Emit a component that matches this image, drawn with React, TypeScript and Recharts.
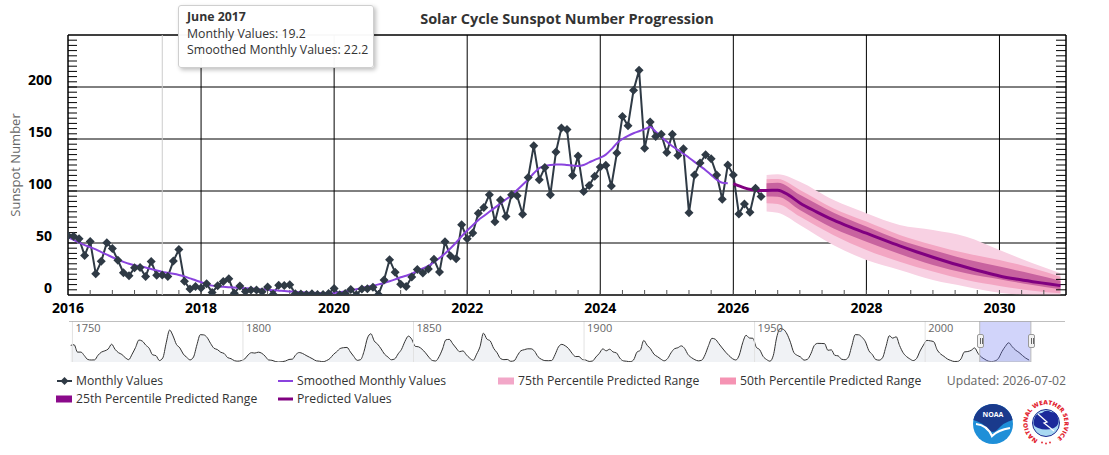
import React from 'react'
import {
  ComposedChart, Line, Area, XAxis, YAxis, CartesianGrid, ReferenceLine, ReferenceArea,
} from 'recharts'

document.body.style.margin = '0'

const FONT = "'Open Sans', sans-serif"

const TITLE = 'Solar Cycle Sunspot Number Progression'
const X_TICKS = [2016, 2018, 2020, 2022, 2024, 2026, 2028, 2030]
const Y_TICKS = [0, 50, 100, 150, 200]

// monthly values, Jan 2016 .. Jun 2026
const MONTHLY = [
  57.0, 56.4, 54.1, 37.9, 51.5, 20.5, 32.4, 50.2, 44.6, 33.4, 21.4, 18.5,
  26.1, 26.4, 17.7, 32.3, 18.9, 19.2, 17.8, 32.6, 43.7, 13.2, 5.7, 8.2,
  6.8, 10.7, 2.5, 8.9, 13.1, 15.6, 1.6, 8.7, 3.3, 4.9, 4.9, 3.1,
  7.7, 0.8, 9.4, 9.1, 9.9, 1.2, 0.9, 0.5, 1.1, 0.4, 0.5, 1.5,
  6.2, 0.2, 1.5, 5.2, 0.2, 5.8, 6.1, 7.5, 0.6, 14.4, 34.0, 21.8,
  10.4, 8.2, 17.2, 24.5, 21.2, 25.0, 34.3, 22.0, 51.3, 37.4, 34.8, 67.5,
  54.0, 59.7, 78.5, 84.1, 96.5, 70.5, 91.4, 75.4, 96.3, 95.4, 77.6, 113.1,
  143.6, 110.9, 122.5, 96.4, 137.4, 160.5, 159.1, 114.8, 133.6, 99.4, 105.4, 114.2,
  123.0, 124.7, 104.9, 136.5, 171.7, 162.8, 196.8, 216.0, 141.1, 166.4, 152.5, 154.5,
  137.0, 154.6, 134.2, 140.6, 79.0, 115.5, 127.0, 134.8, 131.0, 115.5, 92.0, 125.0,
  115.5, 78.0, 87.6, 79.5, 102.7, 94.7,
]

// smoothed monthly values, Jan 2016 .. Dec 2025
const SMOOTHED = [
  55.6, 53.0, 50.5, 48.0, 46.0, 43.8, 41.3, 38.8, 36.3, 34.0, 31.9, 30.0,
  28.6, 27.6, 26.5, 25.0, 23.5, 22.2, 21.3, 20.4, 19.3, 17.9, 16.0, 14.2,
  12.2, 10.4, 9.0, 8.3, 7.9, 7.5, 7.1, 6.8, 6.5, 6.2, 5.8, 5.4,
  5.0, 4.6, 4.2, 3.8, 3.4, 3.0, 2.7, 2.4, 2.1, 1.9, 1.8, 1.8,
  2.0, 2.6, 3.4, 4.6, 5.6, 6.8, 8.0, 9.0, 10.2, 11.6, 13.2, 15.0,
  17.0, 18.5, 20.5, 23.0, 25.5, 28.0, 31.5, 35.5, 40.0, 45.0, 50.5, 56.5,
  62.0, 67.0, 72.0, 76.0, 80.0, 84.0, 88.0, 92.0, 96.0, 101.0, 106.0, 111.0,
  117.0, 122.0, 124.0, 125.0, 125.5, 125.5, 125.0, 124.5, 124.0, 125.0, 127.5, 130.0,
  132.0, 135.0, 140.0, 146.0, 150.0, 153.0, 155.5, 157.5, 159.5, 161.5, 157.0, 152.0,
  147.5, 143.0, 139.5, 136.0, 132.0, 128.0, 124.0, 120.0, 115.5, 111.0, 108.0, 107.5,
]

const PREDICTED_MONTHS = [
  '2026-01', '2026-03', '2026-05', '2026-07', '2026-09', '2026-11',
  '2027-01', '2027-04', '2027-07', '2027-10', '2028-01', '2028-04', '2028-07', '2028-10',
  '2029-01', '2029-04', '2029-07', '2029-10', '2030-01', '2030-04', '2030-07', '2030-10', '2030-12',
]
const PREDICTED = [
  107.0, 103.0, 100.8, 100.5, 100.8, 96.0,
  88.5, 80.0, 72.2, 65.5, 59.4, 53.2, 47.2, 41.6,
  36.3, 31.3, 26.7, 22.3, 18.3, 15.3, 12.8, 10.6, 9.0,
]

const BAND_MONTHS = [
  '2026-07', '2026-09', '2027-01', '2027-07', '2028-01', '2028-07',
  '2029-01', '2029-07', '2030-01', '2030-07', '2030-12',
]
const P75_LOW = [80.2, 79.0, 67.4, 48.1, 33.7, 24.1, 14.4, 8.0, 2.2, 0.0, 0.0]
const P75_HIGH = [115.5, 116.2, 109.0, 91.5, 78.7, 67.4, 62.6, 56.1, 43.3, 30.5, 20.9]
const P50_LOW = [88.3, 87.5, 75.4, 57.8, 43.3, 32.0, 22.5, 14.4, 8.7, 4.1, 1.6]
const P50_HIGH = [111.4, 111.5, 101.0, 83.5, 70.6, 57.8, 48.1, 40.1, 33.7, 25.7, 17.6]
const P25_LOW = [94.7, 94.5, 81.8, 64.2, 51.3, 39.5, 28.9, 20.9, 15.1, 9.6, 5.5]
const P25_HIGH = [107.5, 108.0, 96.3, 79.3, 65.8, 53.0, 43.3, 34.4, 27.3, 20.2, 13.8]

// navigator: yearly sunspot numbers 1749 .. 2030
const NAV_START = 1749
const NAV_YEARLY = [
  134.0, 139.0, 79.5, 79.7, 51.2, 20.3, 16.0, 17.0, 54.0, 79.3,
  90.0, 104.8, 143.2, 102.0, 75.2, 60.7, 34.8, 19.0, 63.0, 116.3,
  176.8, 168.0, 136.0, 110.8, 58.0, 51.0, 11.7, 33.0, 154.2, 257.3,
  209.8, 141.3, 113.5, 64.2, 38.0, 17.0, 40.2, 138.2, 220.0, 218.2,
  196.8, 149.8, 111.0, 100.0, 78.2, 68.3, 35.5, 26.7, 10.7, 6.8,
  11.3, 24.2, 56.7, 75.0, 71.8, 79.2, 70.3, 46.8, 16.8, 13.5,
  4.2, 0.0, 2.3, 8.3, 20.3, 23.2, 59.0, 76.3, 68.3, 52.9,
  38.5, 24.2, 9.2, 6.3, 2.2, 11.4, 28.2, 59.9, 83.0, 108.5,
  115.2, 117.4, 80.8, 44.3, 13.4, 19.5, 85.8, 192.7, 227.3, 168.7,
  143.0, 105.5, 63.3, 40.3, 18.1, 25.1, 65.8, 102.7, 166.3, 208.3,
  182.5, 126.3, 122.0, 102.7, 74.1, 39.0, 12.7, 8.2, 43.4, 104.4,
  178.3, 182.2, 146.6, 112.1, 83.5, 89.2, 57.8, 30.7, 13.9, 62.8,
  123.6, 232.0, 185.3, 169.2, 110.1, 74.5, 28.3, 18.9, 20.7, 5.7,
  10.0, 53.7, 90.5, 99.0, 106.1, 105.8, 86.3, 42.4, 21.8, 11.2,
  10.4, 11.8, 59.5, 121.7, 142.0, 130.0, 106.6, 69.4, 43.8, 44.4,
  20.2, 15.7, 4.6, 8.5, 40.8, 70.1, 105.5, 90.1, 102.8, 80.9,
  73.2, 30.9, 9.5, 6.0, 2.4, 16.1, 79.0, 95.0, 173.6, 134.6,
  105.7, 62.7, 43.5, 23.7, 9.7, 27.9, 74.0, 106.5, 114.7, 129.7,
  108.2, 59.4, 35.1, 18.6, 9.2, 14.6, 60.2, 132.8, 190.6, 182.6,
  148.0, 113.0, 79.2, 50.8, 27.1, 16.1, 55.3, 154.3, 214.7, 193.0,
  190.7, 118.9, 98.3, 45.0, 20.1, 6.6, 54.2, 200.7, 269.3, 261.7,
  225.1, 159.0, 76.4, 53.4, 39.9, 15.0, 22.0, 66.8, 132.9, 150.0,
  149.4, 148.0, 94.4, 97.6, 54.1, 49.2, 22.5, 18.4, 39.3, 131.0,
  220.1, 218.9, 198.9, 162.4, 91.0, 60.5, 20.6, 14.8, 33.9, 123.0,
  211.1, 191.8, 203.3, 133.0, 76.1, 44.9, 25.1, 11.6, 28.9, 88.3,
  136.3, 173.9, 170.4, 163.6, 99.3, 65.3, 45.8, 24.7, 12.6, 4.2,
  4.8, 24.9, 80.8, 84.5, 94.0, 113.3, 69.8, 39.8, 21.7, 7.0,
  3.6, 8.8, 29.6, 83.2, 125.5, 154.7, 124.0, 96.0, 77.0, 53.0,
  31.0, 15.0,
]
const NAV_LABELS = [1750, 1800, 1850, 1900, 1950, 2000]

const monthX = (label: string) => {
  const [y, m] = label.split('-').map(Number)
  return y + (m - 1) / 12
}

const monthlyData = MONTHLY.map((v, i) => ({ x: 2016 + i / 12, v }))
const smoothedData = SMOOTHED.map((v, i) => ({ x: 2016 + i / 12, v }))
const predictedData = PREDICTED_MONTHS.map((m, i) => ({ x: monthX(m), v: PREDICTED[i] }))
const bandData = BAND_MONTHS.map((m, i) => ({
  x: monthX(m),
  p75: [P75_LOW[i], P75_HIGH[i]],
  p50: [P50_LOW[i], P50_HIGH[i]],
  p25: [P25_LOW[i], P25_HIGH[i]],
}))
const navData = NAV_YEARLY.map((v, i) => ({ x: NAV_START + i + 0.5, v }))

// minor tick marks drawn inside the plot frame
const Y_MINOR = Array.from({ length: 49 }, (_, i) => (i + 1) * 5)
const X_MINOR = Array.from({ length: 44 }, (_, i) => 2016 + (i + 1) / 3)
const PX_YEAR = 998 / 15
const PX_UNIT = 260 / 250

function Diamond(props: any) {
  const { cx, cy, index } = props
  if (cx == null || cy == null) return <g key={index} />
  const r = 4.5
  return (
    <path key={index} d={`M${cx} ${cy - r}L${cx + r} ${cy}L${cx} ${cy + r}L${cx - r} ${cy}Z`} fill="#2f3a45" />
  )
}

const XTick = ({ x, y, payload }: any) => (
  <text x={x} y={y + 18} textAnchor="middle" fontFamily={FONT} fontSize={14} fontWeight={700} fill="#000">
    {payload.value}
  </text>
)

const YTick = ({ x, y, payload }: any) => (
  <text x={x - 16} y={y - 2} textAnchor="end" fontFamily={FONT} fontSize={14} fontWeight={700} fill="#000">
    {payload.value}
  </text>
)

const legendText: React.CSSProperties = {
  position: 'absolute', fontFamily: FONT, fontSize: 12.2, color: '#333', lineHeight: '16px', whiteSpace: 'nowrap',
}

function LegendItem({ left, top, label, icon }: { left: number; top: number; label: string; icon: React.ReactNode }) {
  return (
    <>
      <svg style={{ position: 'absolute', left, top: top - 8 }} width={18} height={16}>{icon}</svg>
      <div style={{ ...legendText, left: left + 20, top: top - 8 }}>{label}</div>
    </>
  )
}

function NoaaLogo() {
  return (
    <svg style={{ position: 'absolute', left: 968, top: 399 }} width={50} height={50}>
      <circle cx={25} cy={25} r={20} fill="#1f8fd8" />
      <path d="M5.4 21 A20 20 0 0 1 44.6 21 Q36 23 29 31 Q25 35 21 31 Q14 23 5.4 21 Z" fill="#1a3a8c" />
      <path d="M8 25 Q19 26 24 37 Q30 31 42 29" stroke="#fff" strokeWidth={2.2} fill="none" />
      <text x={25} y={18} textAnchor="middle" fontFamily={FONT} fontSize={7} fontWeight={700} fill="#fff">NOAA</text>
    </svg>
  )
}

function NwsLogo() {
  return (
    <svg style={{ position: 'absolute', left: 1018, top: 395 }} width={56} height={56}>
      <defs>
        <path id="nwsRing" d="M28 46.5 A18.5 18.5 0 1 1 28.01 46.5" />
      </defs>
      <circle cx={28} cy={28} r={23} fill="#fff" />
      <text fontFamily={FONT} fontSize={6} fontWeight={800} fill="#e2222e">
        <textPath href="#nwsRing" startOffset="7%" textLength={96} lengthAdjust="spacingAndGlyphs">
          NATIONAL WEATHER SERVICE
        </textPath>
      </text>
      <circle cx={28} cy={28} r={13.5} fill="#a9d9f2" stroke="#1c2a8f" strokeWidth={1} />
      <path d="M16 25 Q17 18 24 18 Q28 14 33 17 Q40 17 40 24 Q42 30 36 33 Q28 36 20 33 Q14 31 16 25 Z" fill="#1c2a9a" />
      <path d="M20 19 L29 27 L26 28 L36 36" stroke="#fff" strokeWidth={1.3} fill="none" />
      <circle cx={24} cy={47.5} r={0.9} fill="#e2222e" />
      <circle cx={28} cy={48.5} r={0.9} fill="#e2222e" />
      <circle cx={32} cy={47.5} r={0.9} fill="#e2222e" />
    </svg>
  )
}

export default function App() {
  return (
    <div style={{ position: 'relative', width: 1109, height: 455, background: '#fff', fontFamily: FONT }}>
      <div style={{
        position: 'absolute', left: 0, width: 1134, top: 9, textAlign: 'center',
        fontFamily: FONT, fontSize: 14.5, fontWeight: 700, color: '#333', lineHeight: '20px',
      }}>
        {TITLE}
      </div>

      <div style={{ position: 'absolute', left: 0, top: 0 }}>
        <ComposedChart width={1109} height={320} margin={{ top: 35, right: 43, bottom: 0, left: 8 }}>
          <CartesianGrid stroke="#000" strokeWidth={1} />
          <XAxis
            dataKey="x" type="number" domain={[2016, 2031]} ticks={X_TICKS} interval={0}
            allowDataOverflow height={25} tickSize={0} tickMargin={0}
            axisLine={false} tickLine={false} tick={<XTick />}
          />
          <YAxis
            type="number" domain={[0, 250]} ticks={Y_TICKS} interval={0} allowDataOverflow
            width={60} tickSize={0} tickMargin={0} axisLine={false} tickLine={false} tick={<YTick />}
            label={{
              value: 'Sunspot Number', angle: -90, position: 'insideLeft', offset: 7,
              style: { textAnchor: 'middle', fill: '#666', fontSize: 13, fontFamily: FONT },
            }}
          />
          {Y_MINOR.map(v => (
            <ReferenceLine key={`l${v}`} segment={[{ x: 2016, y: v }, { x: 2016 + 9 / PX_YEAR, y: v }]} stroke="#000" />
          ))}
          {Y_MINOR.map(v => (
            <ReferenceLine key={`r${v}`} segment={[{ x: 2031 - 10 / PX_YEAR, y: v }, { x: 2031, y: v }]} stroke="#000" />
          ))}
          {X_MINOR.map(t => (
            <ReferenceLine key={`b${t}`} segment={[{ x: t, y: 0 }, { x: t, y: 5 / PX_UNIT }]} stroke="#555" />
          ))}
          <ReferenceLine x={2017 + 5 / 12} stroke="#cccccc" />
          <Area data={bandData} dataKey="p75" type="monotone" fill="#f8d1e3" fillOpacity={1} stroke="none" isAnimationActive={false} />
          <Area data={bandData} dataKey="p50" type="monotone" fill="#f3a6c3" fillOpacity={1} stroke="none" isAnimationActive={false} />
          <Area data={bandData} dataKey="p25" type="monotone" fill="#c8639f" fillOpacity={1} stroke="none" isAnimationActive={false} />
          <Line data={monthlyData} dataKey="v" type="linear" stroke="#2f3a45" strokeWidth={2} dot={Diamond} activeDot={false} isAnimationActive={false} />
          <Line data={smoothedData} dataKey="v" type="monotone" stroke="#8a43de" strokeWidth={2} dot={false} activeDot={false} isAnimationActive={false} />
          <Line data={predictedData} dataKey="v" type="monotone" stroke="#800080" strokeWidth={3} dot={false} activeDot={false} isAnimationActive={false} />
          <ReferenceArea x1={2016} x2={2031} y1={0} y2={250} fill="none" stroke="#000" strokeWidth={1} />
        </ComposedChart>
      </div>

      {/* hover tooltip */}
      <div style={{
        position: 'absolute', left: 178, top: 5, width: 196, height: 63, boxSizing: 'border-box',
        background: 'rgba(255,255,255,0.97)', border: '1px solid #cfcfcf', borderRadius: 3,
        boxShadow: '2px 2px 4px rgba(0,0,0,0.25)', padding: '3px 8px',
        fontFamily: FONT, fontSize: 12.3, color: '#333', lineHeight: '16.5px', whiteSpace: 'nowrap',
      }}>
        <div style={{ fontWeight: 700 }}>June 2017</div>
        <div>Monthly Values: 19.2</div>
        <div>Smoothed Monthly Values: 22.2</div>
      </div>

      {/* navigator */}
      <div style={{ position: 'absolute', left: 0, top: 321 }}>
        <ComposedChart width={1109} height={41} margin={{ top: 0, right: 44, bottom: 0, left: 69 }}>
          <XAxis dataKey="x" type="number" domain={[1749, 2041]} hide allowDataOverflow />
          <YAxis type="number" domain={[0, 330]} hide allowDataOverflow />
          {NAV_LABELS.map(y => (
            <ReferenceLine
              key={y} x={y} stroke="#e2e2e2"
              label={{ value: String(y), position: 'insideTopLeft', offset: 3, fill: '#666', fontSize: 11, fontFamily: FONT }}
            />
          ))}
          <Area data={navData} dataKey="v" type="monotone" stroke="#333" strokeWidth={1} fill="#f0f2f5" fillOpacity={1} isAnimationActive={false} />
          <ReferenceArea x1={2016} x2={2031} y1={0} y2={330} fill="#6670f0" fillOpacity={0.3} stroke="#bbb" />
          <ReferenceLine y={330} stroke="#aaa" strokeWidth={1.5} />
        </ComposedChart>
      </div>
      {[977, 1028].map(l => (
        <div key={l} style={{
          position: 'absolute', left: l, top: 334, width: 7, height: 14, boxSizing: 'border-box',
          background: '#f2f2f2', border: '1px solid #999', borderRadius: 2,
        }}>
          <div style={{ position: 'absolute', left: 1.5, top: 3, width: 1, height: 6, background: '#666' }} />
          <div style={{ position: 'absolute', left: 3.5, top: 3, width: 1, height: 6, background: '#666' }} />
        </div>
      ))}

      {/* legend */}
      <LegendItem left={56} top={381} label="Monthly Values" icon={
        <g><line x1={1} y1={8} x2={16} y2={8} stroke="#2f3a45" strokeWidth={2} /><path d="M8.5 4L12.5 8L8.5 12L4.5 8Z" fill="#2f3a45" /></g>
      } />
      <LegendItem left={277} top={381} label="Smoothed Monthly Values" icon={
        <line x1={1} y1={8} x2={16} y2={8} stroke="#8a43de" strokeWidth={2} />
      } />
      <LegendItem left={498} top={381} label="75th Percentile Predicted Range" icon={
        <rect x={0} y={4.5} width={16} height={7} fill="#f2a7c8" />
      } />
      <LegendItem left={720} top={381} label="50th Percentile Predicted Range" icon={
        <rect x={0} y={4.5} width={16} height={7} fill="#f593b3" />
      } />
      <LegendItem left={56} top={399} label="25th Percentile Predicted Range" icon={
        <rect x={0} y={4.5} width={16} height={7} fill="#8b0a8b" />
      } />
      <LegendItem left={277} top={399} label="Predicted Values" icon={
        <line x1={1} y1={8} x2={16} y2={8} stroke="#800080" strokeWidth={3} />
      } />
      <div style={{ ...legendText, right: 43, top: 373, color: '#666' }}>Updated: 2026-07-02</div>

      <NoaaLogo />
      <NwsLogo />
    </div>
  )
}
